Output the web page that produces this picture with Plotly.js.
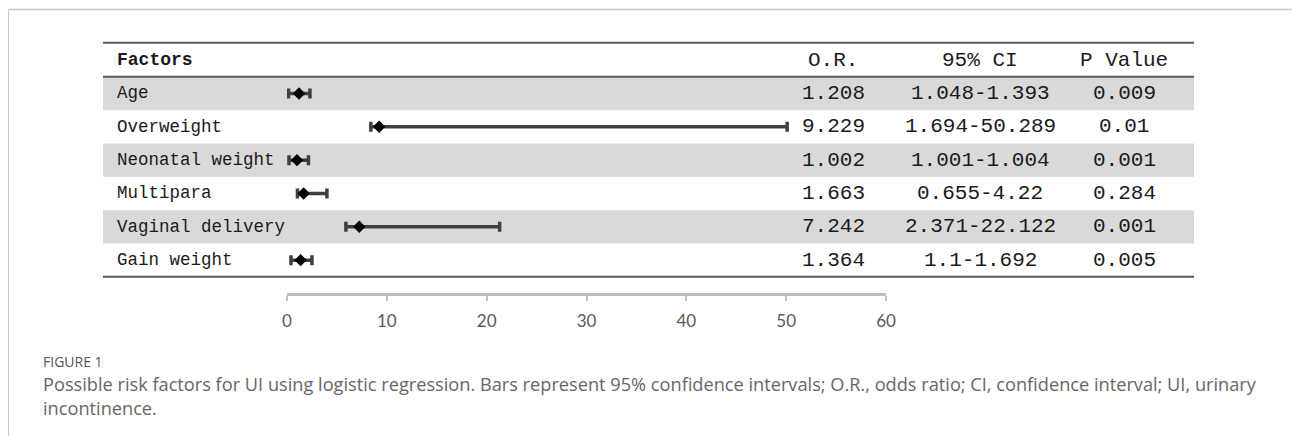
<!DOCTYPE html>
<html>
<head>
<meta charset="utf-8">
<script src="https://cdn.plot.ly/plotly-3.0.1.min.js"></script>
<style>
html,body{margin:0;padding:0;background:#fff;}
#chart{width:1292px;height:436px;}
</style>
</head>
<body>
<div id="chart"></div>
<script>
// ---- data ----
const factors = ['Age', 'Overweight', 'Neonatal weight', 'Multipara', 'Vaginal delivery', 'Gain weight'];
const orValues = [1.208, 9.229, 1.002, 1.663, 7.242, 1.364];
const orLabels = ['1.208', '9.229', '1.002', '1.663', '7.242', '1.364'];
const ciLabels = ['1.048-1.393', '1.694-50.289', '1.001-1.004', '0.655-4.22', '2.371-22.122', '1.1-1.692'];
const pLabels = ['0.009', '0.01', '0.001', '0.284', '0.001', '0.005'];
// bar ends as drawn in the figure
const barLow = [0.15, 8.4, 0.2, 1.05, 5.9, 0.4];
const barHigh = [2.3, 50.1, 2.15, 4.0, 21.3, 2.5];
const headers = ['Factors', 'O.R.', '95% CI', 'P Value'];
const xTicks = [0, 10, 20, 30, 40, 50, 60];

// ---- layout helpers (pixel -> paper) ----
const W = 1292, H = 436;
const px = x => x / W;
const py = y => 1 - y / H;

const rows = factors.map((_, i) => i);
const mono = 'Liberation Mono, DejaVu Sans Mono, monospace';
const textColor = '#1a1a1a';

const trace = {
  type: 'scatter',
  mode: 'markers',
  x: orValues,
  y: rows,
  marker: {symbol: 'diamond', size: 9.5, color: '#000'},
  error_x: {
    type: 'data',
    symmetric: false,
    array: orValues.map((v, i) => barHigh[i] - v),
    arrayminus: orValues.map((v, i) => v - barLow[i]),
    color: '#3f3f3f',
    thickness: 3.5,
    width: 5
  },
  hoverinfo: 'skip',
  showlegend: false
};

const shapes = [];
// frame
shapes.push({type: 'line', xref: 'paper', yref: 'paper', x0: px(8.5), x1: 1, y0: py(9.5), y1: py(9.5), line: {color: '#c8c8c8', width: 1.5}});
shapes.push({type: 'line', xref: 'paper', yref: 'paper', x0: px(8.5), x1: px(8.5), y0: py(9.5), y1: 0, line: {color: '#c8c8c8', width: 1}});
// row bands
rows.forEach(i => {
  if (i % 2 === 0) {
    shapes.push({type: 'rect', xref: 'paper', yref: 'y', x0: px(103), x1: px(1194), y0: i - 0.5, y1: i + 0.5,
      fillcolor: '#d9d9d9', line: {width: 0}, layer: 'below'});
  }
});
// table rules
[42.8, 76.8, 276.8].forEach(y => {
  shapes.push({type: 'line', xref: 'paper', yref: 'paper', x0: px(103), x1: px(1194), y0: py(y), y1: py(y),
    line: {color: '#5a5a5a', width: 2}});
});

const annotations = [];
const colX = [115, 833, 980, 1124];
// headers
annotations.push({xref: 'paper', yref: 'paper', x: px(colX[0]), y: py(60), xanchor: 'left', yanchor: 'middle', showarrow: false,
  text: '<b>' + headers[0] + '</b>', font: {family: mono, size: 18, color: textColor}});
for (let c = 1; c < headers.length; c++) {
  annotations.push({xref: 'paper', yref: 'paper', x: px(colX[c]), y: py(60), xanchor: 'center', yanchor: 'middle', showarrow: false,
    text: headers[c], font: {family: mono, size: 21, color: textColor}});
}
// rows
rows.forEach(i => {
  annotations.push({xref: 'paper', yref: 'y', x: px(colX[0]), y: i, xanchor: 'left', yanchor: 'middle', showarrow: false,
    text: factors[i], font: {family: mono, size: 17.5, color: textColor}});
  [orLabels, ciLabels, pLabels].forEach((arr, k) => {
    annotations.push({xref: 'paper', yref: 'y', x: px(colX[k + 1]), y: i, xanchor: 'center', yanchor: 'middle', showarrow: false,
      text: arr[i], font: {family: mono, size: 21, color: textColor}});
  });
});
// caption
const capFont = 'Open Sans, Noto Sans, sans-serif';
annotations.push({xref: 'paper', yref: 'paper', x: px(41), y: py(361), xanchor: 'left', yanchor: 'middle', showarrow: false,
  text: 'FIGURE 1', font: {family: capFont, size: 14, color: '#555'}});
annotations.push({xref: 'paper', yref: 'paper', x: px(41), y: py(384), xanchor: 'left', yanchor: 'middle', showarrow: false,
  text: 'Possible risk factors for UI using logistic regression. Bars represent 95% confidence intervals; O.R., odds ratio; CI, confidence interval; UI, urinary',
  font: {family: capFont, size: 18.2, color: '#666'}});
annotations.push({xref: 'paper', yref: 'paper', x: px(41), y: py(408), xanchor: 'left', yanchor: 'middle', showarrow: false,
  text: 'incontinence.', font: {family: capFont, size: 18.2, color: '#666'}});

const layout = {
  width: W, height: H,
  margin: {l: 0, r: 0, t: 0, b: 0},
  paper_bgcolor: '#fff', plot_bgcolor: 'rgba(0,0,0,0)',
  xaxis: {
    domain: [px(287), px(886)],
    range: [0, 60],
    anchor: 'free', position: py(293.5),
    tickvals: xTicks, ticktext: xTicks.map(String),
    showline: true, linecolor: '#bfbfbf', linewidth: 3,
    ticks: 'outside', ticklen: 5, tickwidth: 2, tickcolor: '#bfbfbf',
    showgrid: false, zeroline: false,
    tickfont: {family: 'Lato, Carlito, sans-serif', size: 17, color: '#595959'},
    ticklabelstandoff: 6,
    fixedrange: true
  },
  yaxis: {
    domain: [py(276.8), py(76.8)],
    range: [5.5, -0.5],
    visible: false,
    fixedrange: true
  },
  shapes: shapes,
  annotations: annotations
};

Plotly.newPlot('chart', [trace], layout, {displayModeBar: false, staticPlot: true});
</script>
</body>
</html>
